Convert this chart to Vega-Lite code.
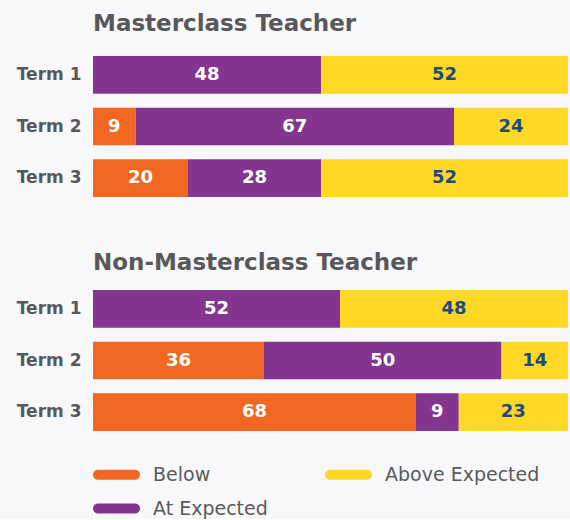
{
  "$schema": "https://vega.github.io/schema/vega-lite/v6.json",
  "background": "#f8f8fa",
  "padding": {"left": 16, "top": 13, "right": 2, "bottom": 0},
  "config": {
    "view": {"stroke": null},
    "font": "DejaVu Sans",
    "title": {"font": "DejaVu Sans", "fontSize": 23, "fontWeight": "bold", "color": "#58585a", "anchor": "start", "frame": "group"},
    "axis": {"labelFont": "DejaVu Sans"}
  },
  "datasets": {
    "d": [
      {"group": "Masterclass Teacher", "term": "Term 1", "cat": "At Expected", "v": 48, "k": 2},
      {"group": "Masterclass Teacher", "term": "Term 1", "cat": "Above Expected", "v": 52, "k": 3},
      {"group": "Masterclass Teacher", "term": "Term 2", "cat": "Below", "v": 9, "k": 1},
      {"group": "Masterclass Teacher", "term": "Term 2", "cat": "At Expected", "v": 67, "k": 2},
      {"group": "Masterclass Teacher", "term": "Term 2", "cat": "Above Expected", "v": 24, "k": 3},
      {"group": "Masterclass Teacher", "term": "Term 3", "cat": "Below", "v": 20, "k": 1},
      {"group": "Masterclass Teacher", "term": "Term 3", "cat": "At Expected", "v": 28, "k": 2},
      {"group": "Masterclass Teacher", "term": "Term 3", "cat": "Above Expected", "v": 52, "k": 3},
      {"group": "Non-Masterclass Teacher", "term": "Term 1", "cat": "At Expected", "v": 52, "k": 2},
      {"group": "Non-Masterclass Teacher", "term": "Term 1", "cat": "Above Expected", "v": 48, "k": 3},
      {"group": "Non-Masterclass Teacher", "term": "Term 2", "cat": "Below", "v": 36, "k": 1},
      {"group": "Non-Masterclass Teacher", "term": "Term 2", "cat": "At Expected", "v": 50, "k": 2},
      {"group": "Non-Masterclass Teacher", "term": "Term 2", "cat": "Above Expected", "v": 14, "k": 3},
      {"group": "Non-Masterclass Teacher", "term": "Term 3", "cat": "Below", "v": 68, "k": 1},
      {"group": "Non-Masterclass Teacher", "term": "Term 3", "cat": "At Expected", "v": 9, "k": 2},
      {"group": "Non-Masterclass Teacher", "term": "Term 3", "cat": "Above Expected", "v": 23, "k": 3}
    ]
  },
  "spacing": 48,
  "resolve": {"scale": {"color": "shared"}},
  "vconcat": [
    {
      "title": {"text": "Masterclass Teacher", "offset": 13},
      "width": 475,
      "height": 155,
      "data": {"name": "d"},
      "transform": [{"filter": "datum.group == 'Masterclass Teacher'"}],
      "encoding": {
        "y": {"field": "term", "type": "nominal", "scale": {"paddingInner": 0.27, "paddingOuter": 0.135},
              "axis": {"title": null, "ticks": false, "domain": false, "labelPadding": 12, "labelFontSize": 17, "labelFontWeight": "bold", "labelColor": "#58585a"}},
        "x": {"field": "v", "type": "quantitative", "stack": "zero", "scale": {"domain": [0, 100], "nice": false}, "axis": null},
        "order": {"field": "k", "type": "quantitative"}
      },
      "layer": [
        {"mark": {"type": "bar"},
         "encoding": {"color": {"field": "cat", "type": "nominal", "title": null,
           "scale": {"domain": ["Below", "Above Expected", "At Expected"], "range": ["#f26722", "#ffd825", "#84358f"]}}}},
        {"mark": {"type": "text", "fontSize": 18, "fontWeight": "bold"},
         "encoding": {
           "x": {"field": "v", "type": "quantitative", "stack": "zero", "bandPosition": 0.5},
           "text": {"field": "v", "type": "quantitative"},
           "color": {"condition": {"test": "datum.cat == 'Above Expected'", "value": "#1d4b80"}, "value": "#ffffff"}}}
      ]
    },
    {
      "title": {"text": "Non-Masterclass Teacher", "offset": 8},
      "width": 475,
      "height": 155,
      "data": {"name": "d"},
      "transform": [{"filter": "datum.group == 'Non-Masterclass Teacher'"}],
      "encoding": {
        "y": {"field": "term", "type": "nominal", "scale": {"paddingInner": 0.27, "paddingOuter": 0.135},
              "axis": {"title": null, "ticks": false, "domain": false, "labelPadding": 12, "labelFontSize": 17, "labelFontWeight": "bold", "labelColor": "#58585a"}},
        "x": {"field": "v", "type": "quantitative", "stack": "zero", "scale": {"domain": [0, 100], "nice": false}, "axis": null},
        "order": {"field": "k", "type": "quantitative"}
      },
      "layer": [
        {"mark": {"type": "bar"},
         "encoding": {"color": {"field": "cat", "type": "nominal", "title": null,
           "scale": {"domain": ["Below", "Above Expected", "At Expected"], "range": ["#f26722", "#ffd825", "#84358f"]},
           "legend": {"orient": "bottom", "columns": 2, "columnPadding": 57, "rowPadding": -10, "offset": 13,
             "symbolType": "M-0.787,-0.213H0.787A0.213,0.213 0 0 1 0.787,0.213H-0.787A0.213,0.213 0 0 1 -0.787,-0.213Z",
             "symbolSize": 2209, "symbolStrokeWidth": 0, "labelOffset": 13, "labelFontSize": 19, "labelColor": "#5a5a5a", "labelFont": "DejaVu Sans"}}}},
        {"mark": {"type": "text", "fontSize": 18, "fontWeight": "bold"},
         "encoding": {
           "x": {"field": "v", "type": "quantitative", "stack": "zero", "bandPosition": 0.5},
           "text": {"field": "v", "type": "quantitative"},
           "color": {"condition": {"test": "datum.cat == 'Above Expected'", "value": "#1d4b80"}, "value": "#ffffff"}}}
      ]
    }
  ]
}
